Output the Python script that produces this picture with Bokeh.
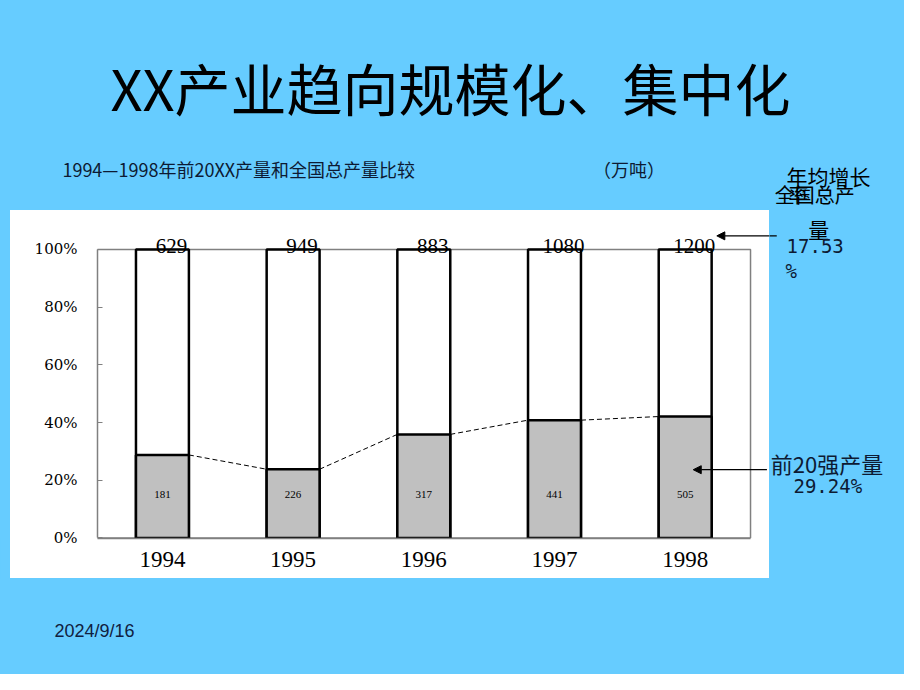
from bokeh.plotting import figure
from bokeh.layouts import column, row
from bokeh.models import (ColumnDataSource, Label, Arrow, NormalHead,
                          FixedTicker, PrintfTickFormatter, Range1d)
from bokeh.embed import file_html
from bokeh.resources import INLINE

# ---- data ----
years = ["1994", "1995", "1996", "1997", "1998"]
national_total = [629, 949, 883, 1080, 1200]      # 全国总产量 (万吨)
top20_output = [181, 226, 317, 441, 505]          # 前20强产量 (万吨)
y_ticks = [0, 20, 40, 60, 80, 100]

xs = list(range(1, len(years) + 1))
share = [t / n * 100 for t, n in zip(top20_output, national_total)]
full = [100] * len(years)

BLUE = "#66CCFF"
DARK = "#0d1a33"
BAR_W = 0.405
CJK = "Noto Sans CJK SC"
MONO = "DejaVu Sans Mono"

# canvas 904x674 represents the 920x690 slide
W, H = 904, 674
SX, SY = W / 920, H / 690

# layout boundaries (canvas px)
Y_MID = 210     # slide y 215: top of white panel
Y_BOT = 578     # slide y 592: bottom of white panel
X_L = 10        # slide x 10: left of white panel
X_R = 769       # slide x 783: right of white panel
BORDER_L = 87   # main chart left border (axis area)
BORDER_B = 40   # main chart bottom border (axis area)


def panel(x0, y0, w, h, border_bottom=0):
    """Blue text panel; its data coordinates are slide pixels (y down)."""
    fh = h - border_bottom
    f = figure(width=w, height=h,
               x_range=Range1d(x0 / SX, (x0 + w) / SX),
               y_range=Range1d((y0 + fh) / SY, y0 / SY),
               output_backend="svg", toolbar_location=None, title=None,
               x_axis_location=None, y_axis_location=None,
               min_border=0, min_border_bottom=border_bottom,
               background_fill_color=BLUE, border_fill_color=BLUE, outline_line_color=None,
               styles={"background-color": BLUE})
    f.grid.visible = False
    return f


def lab(f, x, y, text, size, font=CJK, color=DARK, align="left", baseline="middle"):
    f.add_layout(Label(x=x, y=y, text=text, text_font=font, text_font_size=size,
                       text_color=color, text_align=align, text_baseline=baseline))


def arrow(f, xs_, ys_, xe, ye):
    f.add_layout(Arrow(x_start=xs_, y_start=ys_, x_end=xe, y_end=ye,
                       line_color="black", line_width=1.2,
                       end=NormalHead(size=8, fill_color="black", line_color="black")))


# ---- top panel: title, subtitle, unit ----
top = panel(0, 0, W, Y_MID)
lab(top, 458, 88, "XX产业趋向规模化、集中化", "56px", color="black", align="center")
lab(top, 63, 172, "1994—1998年前20XX产量和全国总产量比较", "18px")
lab(top, 603, 172, "（万吨）", "18px")
lab(top, 800, 180, "年均增长", "21px", color="black")
lab(top, 788, 199, "全国总产", "20px", color="black")
lab(top, 802, 199, "率", "20px", color="black")

# ---- main chart ----
MW, MH = X_R - X_L, Y_BOT - Y_MID
FL, FR, FT, FB = X_L + BORDER_L, X_R, Y_MID, Y_BOT - BORDER_B   # frame in canvas px


def mx(px):   # slide x -> data x
    return (px - 98.3) / 133 + 0.5


def my(py):   # slide y -> data y
    return (551 - py) / 2.96


p = figure(width=MW, height=MH,
           x_range=Range1d(mx(FL / SX), mx(FR / SX)),
           y_range=Range1d(min(my(FB / SY), 0) - 0.2, my(FT / SY)),
           output_backend="svg", toolbar_location=None, title=None,
           min_border_left=BORDER_L, min_border_right=0, min_border_top=0,
           min_border_bottom=BORDER_B,
           background_fill_color="white", border_fill_color="white", outline_line_color=None)
p.grid.visible = False

src = ColumnDataSource(dict(x=xs, year=years, total=[str(v) for v in national_total],
                            top20=[str(v) for v in top20_output], share=share, full=full))

# plot-area frame
p.quad(left=0.5, right=5.5, bottom=0, top=100, fill_color=None,
       line_color="#808080", line_width=1.5)

p.vbar(x="x", top="full", bottom=0, width=BAR_W, source=src,
       fill_color="white", line_color="black", line_width=2.5)
p.vbar(x="x", top="share", bottom=0, width=BAR_W, source=src,
       fill_color="#C0C0C0", line_color="black", line_width=2.5)

# dashed connectors between gray tops
p.segment(x0=[x + BAR_W / 2 for x in xs[:-1]], y0=share[:-1],
          x1=[x - BAR_W / 2 for x in xs[1:]], y1=share[1:],
          line_color="black", line_width=1, line_dash="5 3")

# labels inside gray bars
p.text(x="x", y=15, text="top20", source=src, text_align="center", text_baseline="middle",
       text_font="Liberation Serif", text_font_size="11px", text_color="black")
# total labels above bars
p.text(x="x", y=101.2, text="total", source=src, x_offset=9,
       text_align="center", text_baseline="alphabetic",
       text_font="Liberation Serif", text_font_size="21px", text_color="black")

# axes
p.yaxis.ticker = FixedTicker(ticks=y_ticks)
p.yaxis.formatter = PrintfTickFormatter(format="%d%%")
p.yaxis.bounds = (0, 100)
p.yaxis.major_label_text_font = "DejaVu Serif"
p.yaxis.major_label_text_font_size = "15px"
p.yaxis.major_label_text_color = "black"
p.yaxis.axis_line_color = "#808080"
p.yaxis.axis_line_width = 1.5
p.yaxis.major_tick_line_color = "#808080"
p.yaxis.major_tick_in = 5
p.yaxis.major_tick_out = 0
p.yaxis.minor_tick_line_color = None
p.yaxis.major_label_standoff = 20

p.xaxis.ticker = FixedTicker(ticks=xs)
p.xaxis.major_label_overrides = {x: y for x, y in zip(xs, years)}
p.xaxis.bounds = (0.5, 5.5)
p.xaxis.major_label_text_font = "Liberation Serif"
p.xaxis.major_label_text_font_size = "23px"
p.xaxis.major_label_text_color = "black"
p.xaxis.axis_line_color = "#808080"
p.xaxis.axis_line_width = 1.5
p.xaxis.major_tick_line_color = None
p.xaxis.minor_tick_line_color = None
p.xaxis.major_tick_out = 0
p.xaxis.major_tick_in = 0
p.xaxis.major_label_standoff = 13

# arrows pointing into the chart
arrow(p, mx(790), my(241), mx(729), my(241))
arrow(p, mx(780), my(481), mx(705), my(481))

# ---- left blue strip and right annotation panel (frames aligned with the chart) ----
strip = panel(0, Y_MID, X_L, MH, border_bottom=BORDER_B)
rt = panel(X_R, Y_MID, W - X_R, MH, border_bottom=BORDER_B)
lab(rt, 822, 234, "量", "21px", color="black")
lab(rt, 800, 251, "17.53", "19px", font=MONO)
lab(rt, 799, 277, "%", "19px", font=MONO)
lab(rt, 784, 473, "前20强产量", "22px")
lab(rt, 807, 497, "29.24%", "19px", font=MONO)
arrow(rt, 790, 241, 729, 241)

# ---- bottom panel with date ----
bot = panel(0, Y_BOT, W, H - Y_BOT)
lab(bot, 55, 645, "2024/9/16", "18px", font="Liberation Sans", color="#102040")

layout = column(top, row(strip, p, rt), bot)

open("out.html", "w").write(file_html(layout, INLINE))
